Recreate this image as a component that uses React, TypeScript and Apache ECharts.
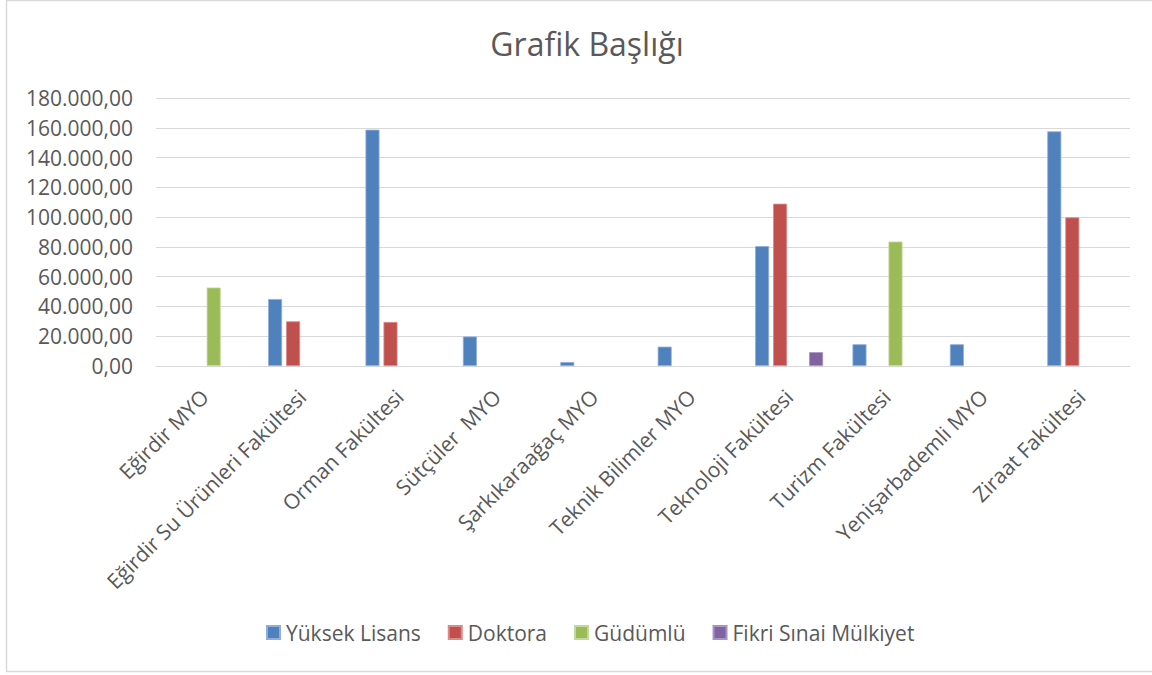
import React, { useEffect, useRef } from "react";
import * as echarts from "echarts";

const categories = [
  "Eğirdir MYO",
  "Eğirdir Su Ürünleri Fakültesi",
  "Orman Fakültesi",
  "Sütçüler  MYO",
  "Şarkıkaraağaç MYO",
  "Teknik Bilimler MYO",
  "Teknoloji Fakültesi",
  "Turizm Fakültesi",
  "Yenişarbademli MYO",
  "Ziraat Fakültesi",
];

const seriesNames = ["Yüksek Lisans", "Doktora", "Güdümlü", "Fikri Sınai Mülkiyet"];

const yuksekLisans = [null, 45000, 158700, 19800, 2700, 13000, 80500, 14600, 14600, 157600];
const doktora = [null, 30000, 29600, null, null, null, 109000, null, null, 99800];
const gudumlu = [52700, null, null, null, null, null, null, 83600, null, null];
const fikriSinai = [null, null, null, null, null, null, 9300, null, null, null];

const colors = ["#4F81BD", "#C0504D", "#9BBB59", "#8064A2"];
const borders = ["#8FAEDA", "#DB8A88", "#C3D99A", "#A893C4"];

const font = "'Open Sans', sans-serif";
const textColor = "#595959";

function fmt(v: number): string {
  const int = Math.round(v).toString();
  const withDots = int.replace(/\B(?=(\d{3})+(?!\d))/g, ".");
  return withDots + ",00";
}

export default function App() {
  const ref = useRef<HTMLDivElement>(null);
  useEffect(() => {
    if (!ref.current) return;
    const chart = echarts.init(ref.current, null, { renderer: "svg" });
    const data = [yuksekLisans, doktora, gudumlu, fikriSinai];
    chart.setOption({
      animation: false,
      backgroundColor: "#ffffff",
      title: {
        text: "Grafik Başlığı",
        left: 582,
        textAlign: "center",
        top: 22,
        textStyle: { fontFamily: font, fontSize: 32, fontWeight: "normal", color: textColor },
      },
      legend: {
        left: 261,
        top: 617,
        itemWidth: 13,
        itemHeight: 13,
        itemGap: 27,
        icon: "rect",
        textStyle: { fontFamily: font, fontSize: 21, color: textColor, padding: [0, 0, 0, 1] },
        data: seriesNames,
      },
      grid: { left: 156, right: 22, top: 98, bottom: 309, containLabel: false },
      xAxis: {
        type: "category",
        data: categories,
        axisLine: { show: true, lineStyle: { color: "#d9d9d9", width: 1 } },
        axisTick: { show: false },
        axisLabel: {
          rotate: 45,
          interval: 0,
          margin: 27,
          fontFamily: font,
          fontSize: 21,
          color: textColor,
        },
      },
      yAxis: {
        type: "value",
        min: 0,
        max: 180000,
        interval: 20000,
        axisLine: { show: false },
        axisTick: { show: false },
        splitLine: { lineStyle: { color: "#d9d9d9", width: 1 } },
        axisLabel: {
          margin: 23,
          fontFamily: font,
          fontSize: 21,
          color: textColor,
          formatter: (v: number) => fmt(v),
        },
      },
      series: seriesNames.map((name, i) => ({
        name,
        type: "bar",
        data: data[i],
        barWidth: 14,
        barGap: "28.6%",
        itemStyle: { color: colors[i], borderColor: borders[i], borderWidth: 0.8 },
      })),
      graphic: [
        {
          type: "rect",
          silent: true,
          shape: { x: 6.5, y: 0.5, width: 1160, height: 671 },
          style: { fill: "none", stroke: "#d9d9d9", lineWidth: 1.5 },
        },
      ],
    });
    return () => chart.dispose();
  }, []);
  return (
    <div
      ref={ref}
      style={{ position: "fixed", left: 0, top: 0, width: 1152, height: 675 }}
    />
  );
}
